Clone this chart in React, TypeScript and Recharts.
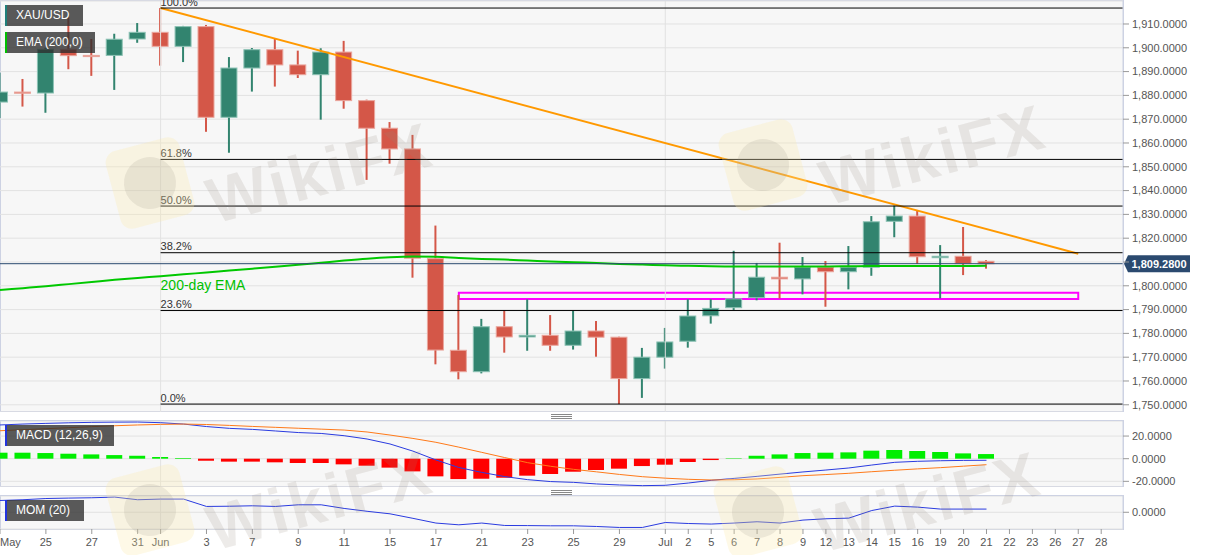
import React from 'react'
import {
  ComposedChart, Bar, Line, XAxis, YAxis, CartesianGrid, ReferenceLine, ReferenceArea, Cell,
} from 'recharts'

const FONT = 'Arial, "Liberation Sans", sans-serif'
const GRID = '#e2e2e2'
const BORDER = '#cdd2e3'
const UP = '#32846f'
const UP_EDGE = '#8cc2b4'
const DOWN = '#d45748'
const DOWN_EDGE = '#eaa69d'

// trading days 21 May - 28 Jul 2021 (last 5 are empty future slots)
const dayLabels = [
  'May', '24', '25', '26', '27', '28', '31',
  'Jun', '2', '3', '4', '7', '8', '9', '10', '11', '14', '15', '16', '17', '18',
  '21', '22', '23', '24', '25', '28', '29', '30',
  'Jul', '2', '5', '6', '7', '8', '9', '12', '13', '14', '15', '16', '19', '20', '21',
  '22', '23', '26', '27', '28',
]
const shownTicks = [0, 2, 4, 6, 7, 9, 11, 13, 15, 17, 19, 21, 23, 25, 27, 29, 30, 31, 32, 33, 34, 35, 36,
  37, 38, 39, 40, 41, 42, 43, 44, 45, 46, 47, 48]

const open = [1877.2, 1881.4, 1881.0, 1899.4, 1896.8, 1896.8, 1903.7, 1906.5, 1900.6, 1908.9, 1870.8, 1891.5,
  1899.2, 1892.8, 1888.7, 1898.2, 1877.8, 1866.2, 1857.5, 1811.4, 1772.9, 1763.9, 1782.8, 1778.5, 1779.2,
  1775.0, 1781.0, 1778.4, 1761.0, 1770.0, 1776.7, 1787.4, 1790.8, 1795.0, 1803.6, 1802.9, 1807.8, 1805.9,
  1807.8, 1827.1, 1829.3, 1811.8, 1812.4, 1810.3]
const high = [1889.5, 1886.9, 1900.0, 1912.8, 1903.7, 1905.9, 1910.4, 1916.7, 1909.2, 1909.6, 1896.1, 1899.9,
  1903.7, 1898.8, 1899.8, 1902.9, 1878.2, 1868.8, 1863.4, 1825.3, 1796.1, 1786.1, 1789.5, 1794.3, 1787.7,
  1789.5, 1785.2, 1778.6, 1773.9, 1782.3, 1794.3, 1794.3, 1814.7, 1809.6, 1818.1, 1812.1, 1810.4, 1816.7,
  1829.3, 1833.7, 1831.6, 1817.1, 1824.7, 1810.8]
const low = [1870.5, 1875.3, 1872.7, 1891.0, 1888.2, 1882.3, 1902.1, 1892.5, 1894.0, 1864.7, 1855.9, 1881.6,
  1883.7, 1887.3, 1869.8, 1874.4, 1844.5, 1851.3, 1803.4, 1767.0, 1760.7, 1763.2, 1771.9, 1772.7, 1772.7,
  1773.2, 1770.2, 1750.3, 1752.9, 1765.2, 1774.0, 1784.1, 1789.8, 1793.9, 1794.7, 1796.4, 1791.2, 1798.5,
  1804.2, 1820.4, 1809.2, 1794.7, 1804.5, 1807.2]
const close = [1881.4, 1880.9, 1899.4, 1896.7, 1896.3, 1903.6, 1906.5, 1900.6, 1908.9, 1870.8, 1891.5, 1899.2,
  1892.8, 1888.7, 1898.2, 1877.8, 1866.2, 1857.5, 1811.6, 1773.0, 1763.9, 1782.8, 1778.5, 1779.2, 1775.0,
  1781.0, 1778.4, 1761.0, 1770.0, 1776.4, 1787.3, 1790.5, 1794.5, 1803.6, 1802.9, 1807.8, 1805.9, 1807.8,
  1826.9, 1829.3, 1812.2, 1812.4, 1809.3, 1809.28]

const ema200 = [1798.2, 1799.0, 1799.8, 1800.7, 1801.6, 1802.5, 1803.3, 1804.0, 1804.8, 1805.6, 1806.4, 1807.2,
  1808.0, 1808.8, 1809.7, 1810.6, 1811.4, 1812.0, 1812.3, 1812.2, 1811.7, 1811.3, 1811.0, 1810.6, 1810.2,
  1809.9, 1809.6, 1809.2, 1808.9, 1808.6, 1808.4, 1808.2, 1808.1, 1808.1, 1808.1, 1808.1, 1808.1, 1808.2,
  1808.3, 1808.3, 1808.3, 1808.3, 1808.3, 1808.4]

const trendIdx = [7, 47]
const trendVal = [1916.7, 1813.5]

const fibLabels = ['100.0%', '61.8%', '50.0%', '38.2%', '23.6%', '0.0%']
const fibValues = [1916.7, 1853.1, 1833.5, 1813.9, 1789.6, 1750.3]

const zoneFrom = 20
const zoneTo = 47
const zoneLow = 1794.5
const zoneHigh = 1797.1

const macdHist = [5.3, 5.3, 5.0, 4.4, 3.8, 3.2, 2.6, 1.5, 0.6, -1.8, -2.6, -2.6, -3.2, -3.8, -3.8, -5.0, -6.2,
  -7.9, -11.2, -15.6, -18.0, -17.7, -16.8, -15.0, -13.5, -11.5, -10.0, -8.8, -6.5, -5.3, -2.9, -1.2, 0.4, 2.6,
  3.8, 5.0, 5.3, 5.6, 7.1, 7.7, 6.8, 5.9, 4.7, 4.1]
const macdLine = [29.8, 30.6, 31.2, 31.7, 32.1, 32.3, 32.4, 31.8, 30.6, 28.4, 26.8, 25.9, 24.5, 23.1, 22.3, 20.3,
  17.4, 13.0, 6.7, -1.1, -7.8, -12.1, -15.8, -18.5, -20.2, -20.9, -22.3, -23.2, -23.8, -23.5, -21.5, -19.1,
  -17.4, -15.6, -13.6, -11.7, -10.0, -8.2, -5.6, -3.2, -2.3, -1.8, -1.5, -1.4]
const signalLine = [24.7, 25.6, 26.5, 27.4, 28.3, 29.1, 29.8, 30.3, 30.6, 30.2, 29.4, 28.5, 27.7, 26.9, 26.1, 25.3,
  23.6, 20.9, 17.9, 14.5, 10.2, 5.6, 1.0, -3.5, -6.7, -9.4, -11.6, -13.9, -15.9, -17.2, -18.2, -18.8, -18.6,
  -17.9, -16.5, -15.0, -14.0, -12.9, -11.5, -10.2, -9.0, -7.9, -6.6, -5.3]

const mom20 = [107, 114, 125, 129, 132, 138, 114, 120, 120, 53, 55, 59, 53, 68, 68, 35, 9, -14, -55, -98, -114,
  -98, -120, -121, -123, -123, -129, -138, -138, -93, -102, -107, -98, -86, -98, -71, -59, -53, 16, 56, 47, 29,
  29, 29]

const priceTicks = [1750, 1760, 1770, 1780, 1790, 1800, 1810, 1820, 1830, 1840, 1850, 1860, 1870, 1880, 1890,
  1900, 1910]
const macdTicks = [-20, 0, 20]
const momTicks = [0]

const X_DOMAIN: [number, number] = [0, 48.95]

const pick = (arr: number[], i: number) => (i < arr.length ? arr[i] : null)

const rows = dayLabels.map((_, i) => ({
  i,
  range: i < close.length ? [low[i], high[i]] : null,
  o: pick(open, i),
  h: pick(high, i),
  l: pick(low, i),
  c: pick(close, i),
  ema: pick(ema200, i),
  trend: trendIdx.includes(i) ? trendVal[trendIdx.indexOf(i)] : null,
  hist: pick(macdHist, i),
  macd: pick(macdLine, i),
  signal: pick(signalLine, i),
  mom: pick(mom20, i),
}))

const lastClose = close[close.length - 1]

function fmt4(v: number) {
  return new Intl.NumberFormat('en-US', { minimumFractionDigits: 4, maximumFractionDigits: 4 }).format(v)
}

// the last-price tag sits on the axis and hides the tick label under it
const priceTickFmt = (v: number) => (Math.abs(v - lastClose) < 4 ? '' : fmt4(v))

const axisTick = { fontSize: 11, fill: '#555', fontFamily: FONT }

function Candle(props: any) {
  const { x, y, width, height, payload } = props
  if (!payload || payload.o == null) return null
  const { o, h, l, c } = payload
  const k = h === l ? 0 : height / (h - l)
  const py = (p: number) => y + (h - p) * k
  const up = c >= o
  const col = up ? UP : DOWN
  const cx = x + width / 2
  const top = py(Math.max(o, c))
  const bot = py(Math.min(o, c))
  return (
    <g>
      <line x1={cx} x2={cx} y1={y} y2={y + height} stroke={col} strokeWidth={2} />
      <rect x={x} y={top} width={width} height={Math.max(bot - top, 1)} fill={col}
        stroke={up ? UP_EDGE : DOWN_EDGE} strokeWidth={1} />
    </g>
  )
}

function PriceTag(props: any) {
  const { viewBox } = props
  const x = viewBox.x + viewBox.width
  const y = viewBox.y
  return (
    <g>
      <path d={`M${x + 1},${y} L${x + 5},${y - 8.5} L${x + 67},${y - 8.5} L${x + 67},${y + 8.5} L${x + 5},${y + 8.5} Z`}
        fill="#2b4a6f" />
      <text x={x + 36} y={y + 4} textAnchor="middle" fill="#fff" fontSize={11} fontWeight="bold" fontFamily={FONT}>
        {fmt4(lastClose)}
      </text>
    </g>
  )
}

const fibLabel = (text: string) => (props: any) => (
  <text x={props.viewBox.x} y={props.viewBox.y - 2.5} fontSize={11} fill="#333" fontFamily={FONT}>{text}</text>
)

const emaLabel = (props: any) => (
  <text x={props.viewBox.x} y={props.viewBox.y} fontSize={14} fill="#00c000" fontFamily={FONT}>200-day EMA</text>
)

function DateTick(props: any) {
  const { x, y, payload, index } = props
  return (
    <text x={x} y={y} dy="0.71em" textAnchor={index === 0 ? 'start' : 'middle'} fontSize={11} fill="#555"
      fontFamily={FONT}>
      {dayLabels[payload.value]}
    </text>
  )
}

function Tag({ top, width, accent, text }: { top: number; width: number; accent: string; text: string }) {
  return (
    <div style={{
      position: 'absolute', left: 5, top, width, height: 21, boxSizing: 'border-box',
      background: 'rgba(45,45,45,0.78)', borderLeft: `2px solid ${accent}`, color: '#fff',
      font: `12px ${FONT}`, lineHeight: '21px', paddingLeft: 9, whiteSpace: 'nowrap',
    }}>{text}</div>
  )
}

function Panel({ top, height }: { top: number; height: number }) {
  return (
    <div style={{
      position: 'absolute', left: 0, top, width: 1124, height, boxSizing: 'border-box',
      background: '#f7f7f7', border: `1px solid ${BORDER}`,
    }} />
  )
}

function Handle({ top }: { top: number }) {
  return (
    <svg style={{ position: 'absolute', left: 551, top }} width={21} height={6}>
      <line x1={0} x2={21} y1={0.5} y2={0.5} stroke="#888" />
      <line x1={0} x2={21} y1={2.5} y2={2.5} stroke="#888" />
      <line x1={0} x2={21} y1={4.5} y2={4.5} stroke="#888" />
    </svg>
  )
}

function Watermark({ left, top }: { left: number; top: number }) {
  return (
    <>
      <div style={{
        position: 'absolute', left, top, width: 76, height: 80, borderRadius: 12,
        background: 'rgba(250,232,170,0.28)', transform: 'rotate(-15deg)', pointerEvents: 'none',
      }}>
        <div style={{
          position: 'absolute', left: 12, top: 14, width: 52, height: 52, borderRadius: '50%',
          background: 'rgba(150,140,130,0.16)',
        }} />
      </div>
      <div style={{
        position: 'absolute', left: left + 208, top: top + 30, font: `bold 64px ${FONT}`, letterSpacing: 3,
        color: 'rgba(150,135,125,0.17)', transform: 'translate(-50%,-50%) rotate(-15deg)', whiteSpace: 'nowrap',
        pointerEvents: 'none',
      }}>WikiFX</div>
    </>
  )
}

export default function App() {
  return (
    <div style={{ position: 'absolute', left: 0, top: 0, width: 1207, height: 555, background: '#fff', overflow: 'hidden' }}>
      <Panel top={0} height={412} />
      <Panel top={420} height={67} />
      <Panel top={495} height={35} />
      <Handle top={414} />
      <Handle top={490} />

      <div style={{ position: 'absolute', left: 0, top: 0 }}>
        <ComposedChart width={1207} height={412} data={rows} margin={{ top: 1, right: 0, bottom: 0, left: 0 }}>
          <CartesianGrid vertical={false} stroke={GRID} />
          <XAxis dataKey="i" type="number" domain={X_DOMAIN} hide allowDataOverflow />
          <YAxis orientation="right" width={84} domain={[1746.97, 1919.66]} ticks={priceTicks} interval={0}
            allowDataOverflow tickFormatter={priceTickFmt} tick={axisTick} tickSize={6} tickMargin={3}
            axisLine={{ stroke: BORDER }} tickLine={{ stroke: '#999' }} />
          <ReferenceLine x={7} stroke={GRID} />
          <ReferenceLine x={29} stroke={GRID} />
          <Bar dataKey="range" barSize={16} shape={Candle} isAnimationActive={false} />
          <Line dataKey="ema" type="monotone" stroke="#00c800" strokeWidth={2} dot={false} isAnimationActive={false} />
          <Line dataKey="trend" type="linear" stroke="#ff9900" strokeWidth={2} dot={false} connectNulls
            isAnimationActive={false} />
          {fibValues.map((v, k) => (
            <ReferenceLine key={fibLabels[k]} segment={[{ x: 7, y: v }, { x: X_DOMAIN[1], y: v }]} stroke="#000"
              strokeWidth={1} label={fibLabel(fibLabels[k])} />
          ))}
          <ReferenceArea x1={zoneFrom} x2={zoneTo} y1={zoneLow} y2={zoneHigh} fill="none" fillOpacity={0}
            stroke="#ff00ff" strokeWidth={2} />
          <ReferenceLine y={lastClose} stroke="#2b4a6f" strokeWidth={1} label={PriceTag} />
          <ReferenceLine segment={[{ x: 7, y: 1798.2 }, { x: 8, y: 1798.2 }]} stroke="none" label={emaLabel} />
        </ComposedChart>
      </div>

      <div style={{ position: 'absolute', left: 0, top: 421 }}>
        <ComposedChart width={1207} height={66} data={rows} margin={{ top: 0, right: 0, bottom: 0, left: 0 }}>
          <CartesianGrid vertical={false} stroke={GRID} />
          <XAxis dataKey="i" type="number" domain={X_DOMAIN} hide allowDataOverflow />
          <YAxis orientation="right" width={84} domain={[-25, 33.3]} ticks={macdTicks} interval={0} allowDataOverflow
            tickFormatter={fmt4} tick={axisTick} tickSize={6} tickMargin={3} axisLine={{ stroke: BORDER }}
            tickLine={{ stroke: '#999' }} />
          <ReferenceLine x={7} stroke={GRID} />
          <ReferenceLine x={29} stroke={GRID} />
          <Bar dataKey="hist" barSize={16} isAnimationActive={false}>
            {rows.map((r) => (
              <Cell key={r.i} fill={(r.hist ?? 0) >= 0 ? '#00ee00' : '#ff0000'} />
            ))}
          </Bar>
          <Line dataKey="macd" type="linear" stroke="#2a3be0" strokeWidth={1} dot={false} isAnimationActive={false} />
          <Line dataKey="signal" type="linear" stroke="#ff7a1a" strokeWidth={1} dot={false} isAnimationActive={false} />
        </ComposedChart>
      </div>

      <div style={{ position: 'absolute', left: 0, top: 496 }}>
        <ComposedChart width={1207} height={59} data={rows} margin={{ top: 0, right: 0, bottom: 0, left: 0 }}>
          <CartesianGrid vertical={false} stroke={GRID} />
          <XAxis dataKey="i" type="number" domain={X_DOMAIN} allowDataOverflow ticks={shownTicks} interval={0}
            height={26} tick={DateTick} tickSize={5} tickMargin={4} axisLine={false} tickLine={{ stroke: '#999' }} />
          <YAxis orientation="right" width={84} domain={[-152, 148]} ticks={momTicks} interval={0} allowDataOverflow
            tickFormatter={fmt4} tick={axisTick} tickSize={6} tickMargin={3} axisLine={{ stroke: BORDER }}
            tickLine={{ stroke: '#999' }} />
          <ReferenceLine x={7} stroke={GRID} />
          <ReferenceLine x={29} stroke={GRID} />
          <Line dataKey="mom" type="linear" stroke="#2a3be0" strokeWidth={1} dot={false} isAnimationActive={false} />
        </ComposedChart>
      </div>

      <Watermark left={112} top={143} />
      <Watermark left={725} top={125} />
      <Watermark left={112} top={470} />
      <Watermark left={720} top={472} />

      <Tag top={5} width={78} accent="#1f7f7a" text="XAU/USD" />
      <Tag top={32} width={90} accent="#00c000" text="EMA (200,0)" />
      <Tag top={425} width={109} accent="#2233dd" text="MACD (12,26,9)" />
      <Tag top={500} width={79} accent="#2233dd" text="MOM (20)" />
    </div>
  )
}
